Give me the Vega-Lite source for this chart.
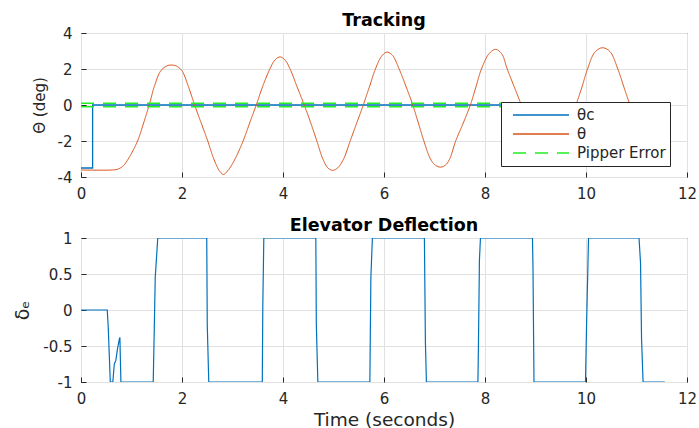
{
  "$schema": "https://vega.github.io/schema/vega-lite/v6.json",
  "padding": {"left": 13, "top": 11, "right": 2, "bottom": 2},
  "background": "white",
  "spacing": 14,
  "datasets": {
    "top": [
      {"t": 0, "v": -3.5, "s": "θc", "k": "c"},
      {"t": 0.23, "v": -3.5, "s": "θc", "k": "c"},
      {"t": 0.23, "v": 0, "s": "θc", "k": "c"},
      {"t": 11.55, "v": 0, "s": "θc", "k": "c"},
      {"t": 0, "v": 0.1, "s": "Pipper Error", "k": "p1"},
      {"t": 11.55, "v": 0.1, "s": "Pipper Error", "k": "p1"},
      {"t": 0, "v": -0.1, "s": "Pipper Error", "k": "p2"},
      {"t": 11.55, "v": -0.1, "s": "Pipper Error", "k": "p2"},
      {"t": 0, "v": -3.61, "s": "θ", "k": "th"},
      {"t": 0.62, "v": -3.61, "s": "θ", "k": "th"},
      {"t": 0.72, "v": -3.57, "s": "θ", "k": "th"},
      {"t": 0.83, "v": -3.4, "s": "θ", "k": "th"},
      {"t": 0.95, "v": -2.93, "s": "θ", "k": "th"},
      {"t": 1.12, "v": -2.0, "s": "θ", "k": "th"},
      {"t": 1.24, "v": -1.0, "s": "θ", "k": "th"},
      {"t": 1.35, "v": 0, "s": "θ", "k": "th"},
      {"t": 1.46, "v": 1.1, "s": "θ", "k": "th"},
      {"t": 1.58, "v": 1.9, "s": "θ", "k": "th"},
      {"t": 1.7, "v": 2.17, "s": "θ", "k": "th"},
      {"t": 1.8, "v": 2.22, "s": "θ", "k": "th"},
      {"t": 1.9, "v": 2.15, "s": "θ", "k": "th"},
      {"t": 2.0, "v": 1.9, "s": "θ", "k": "th"},
      {"t": 2.13, "v": 1.0, "s": "θ", "k": "th"},
      {"t": 2.25, "v": 0, "s": "θ", "k": "th"},
      {"t": 2.38, "v": -1.0, "s": "θ", "k": "th"},
      {"t": 2.51, "v": -2.0, "s": "θ", "k": "th"},
      {"t": 2.63, "v": -3.0, "s": "θ", "k": "th"},
      {"t": 2.74, "v": -3.65, "s": "θ", "k": "th"},
      {"t": 2.82, "v": -3.86, "s": "θ", "k": "th"},
      {"t": 2.92, "v": -3.6, "s": "θ", "k": "th"},
      {"t": 3.05, "v": -3.0, "s": "θ", "k": "th"},
      {"t": 3.21, "v": -2.0, "s": "θ", "k": "th"},
      {"t": 3.34, "v": -1.0, "s": "θ", "k": "th"},
      {"t": 3.47, "v": 0, "s": "θ", "k": "th"},
      {"t": 3.6, "v": 1.05, "s": "θ", "k": "th"},
      {"t": 3.74, "v": 2.0, "s": "θ", "k": "th"},
      {"t": 3.84, "v": 2.5, "s": "θ", "k": "th"},
      {"t": 3.94, "v": 2.67, "s": "θ", "k": "th"},
      {"t": 4.04, "v": 2.5, "s": "θ", "k": "th"},
      {"t": 4.14, "v": 2.0, "s": "θ", "k": "th"},
      {"t": 4.28, "v": 1.0, "s": "θ", "k": "th"},
      {"t": 4.42, "v": 0, "s": "θ", "k": "th"},
      {"t": 4.55, "v": -1.0, "s": "θ", "k": "th"},
      {"t": 4.67, "v": -2.0, "s": "θ", "k": "th"},
      {"t": 4.79, "v": -3.0, "s": "θ", "k": "th"},
      {"t": 4.89, "v": -3.5, "s": "θ", "k": "th"},
      {"t": 4.98, "v": -3.63, "s": "θ", "k": "th"},
      {"t": 5.08, "v": -3.5, "s": "θ", "k": "th"},
      {"t": 5.2, "v": -3.0, "s": "θ", "k": "th"},
      {"t": 5.33, "v": -2.0, "s": "θ", "k": "th"},
      {"t": 5.46, "v": -1.0, "s": "θ", "k": "th"},
      {"t": 5.59, "v": 0, "s": "θ", "k": "th"},
      {"t": 5.71, "v": 1.0, "s": "θ", "k": "th"},
      {"t": 5.83, "v": 2.0, "s": "θ", "k": "th"},
      {"t": 5.95, "v": 2.7, "s": "θ", "k": "th"},
      {"t": 6.06, "v": 2.94, "s": "θ", "k": "th"},
      {"t": 6.17, "v": 2.75, "s": "θ", "k": "th"},
      {"t": 6.3, "v": 2.0, "s": "θ", "k": "th"},
      {"t": 6.44, "v": 1.0, "s": "θ", "k": "th"},
      {"t": 6.57, "v": 0, "s": "θ", "k": "th"},
      {"t": 6.68, "v": -1.0, "s": "θ", "k": "th"},
      {"t": 6.79, "v": -2.0, "s": "θ", "k": "th"},
      {"t": 6.92, "v": -3.0, "s": "θ", "k": "th"},
      {"t": 7.02, "v": -3.35, "s": "θ", "k": "th"},
      {"t": 7.12, "v": -3.45, "s": "θ", "k": "th"},
      {"t": 7.22, "v": -3.33, "s": "θ", "k": "th"},
      {"t": 7.3, "v": -3.0, "s": "θ", "k": "th"},
      {"t": 7.42, "v": -2.0, "s": "θ", "k": "th"},
      {"t": 7.57, "v": -1.0, "s": "θ", "k": "th"},
      {"t": 7.71, "v": 0, "s": "θ", "k": "th"},
      {"t": 7.82, "v": 1.0, "s": "θ", "k": "th"},
      {"t": 7.93, "v": 2.0, "s": "θ", "k": "th"},
      {"t": 8.08, "v": 2.85, "s": "θ", "k": "th"},
      {"t": 8.21, "v": 3.09, "s": "θ", "k": "th"},
      {"t": 8.33, "v": 2.85, "s": "θ", "k": "th"},
      {"t": 8.44, "v": 2.0, "s": "θ", "k": "th"},
      {"t": 8.58, "v": 1.0, "s": "θ", "k": "th"},
      {"t": 8.72, "v": 0, "s": "θ", "k": "th"},
      {"t": 8.85, "v": -1.0, "s": "θ", "k": "th"},
      {"t": 8.97, "v": -2.0, "s": "θ", "k": "th"},
      {"t": 9.09, "v": -2.95, "s": "θ", "k": "th"},
      {"t": 9.17, "v": -3.25, "s": "θ", "k": "th"},
      {"t": 9.25, "v": -3.3, "s": "θ", "k": "th"},
      {"t": 9.33, "v": -3.2, "s": "θ", "k": "th"},
      {"t": 9.42, "v": -2.9, "s": "θ", "k": "th"},
      {"t": 9.53, "v": -2.0, "s": "θ", "k": "th"},
      {"t": 9.66, "v": -1.0, "s": "θ", "k": "th"},
      {"t": 9.8, "v": 0, "s": "θ", "k": "th"},
      {"t": 9.92, "v": 1.0, "s": "θ", "k": "th"},
      {"t": 10.03, "v": 2.0, "s": "θ", "k": "th"},
      {"t": 10.18, "v": 2.95, "s": "θ", "k": "th"},
      {"t": 10.33, "v": 3.18, "s": "θ", "k": "th"},
      {"t": 10.48, "v": 2.95, "s": "θ", "k": "th"},
      {"t": 10.63, "v": 2.0, "s": "θ", "k": "th"},
      {"t": 10.75, "v": 1.0, "s": "θ", "k": "th"},
      {"t": 10.87, "v": 0, "s": "θ", "k": "th"},
      {"t": 10.99, "v": -1.0, "s": "θ", "k": "th"},
      {"t": 11.1, "v": -2.0, "s": "θ", "k": "th"},
      {"t": 11.22, "v": -2.95, "s": "θ", "k": "th"},
      {"t": 11.33, "v": -3.25, "s": "θ", "k": "th"},
      {"t": 11.43, "v": -3.3, "s": "θ", "k": "th"},
      {"t": 11.55, "v": -3.15, "s": "θ", "k": "th"}
    ],
    "elev": [
      {"t": 0, "d": 0},
      {"t": 0.52, "d": 0},
      {"t": 0.54, "d": -0.25},
      {"t": 0.58, "d": -1},
      {"t": 0.63, "d": -1},
      {"t": 0.66, "d": -0.75},
      {"t": 0.69, "d": -0.7},
      {"t": 0.72, "d": -0.55},
      {"t": 0.76, "d": -0.4},
      {"t": 0.77, "d": -0.38},
      {"t": 0.79, "d": -1},
      {"t": 1.43, "d": -1},
      {"t": 1.45, "d": -0.3},
      {"t": 1.47, "d": 0.45},
      {"t": 1.52, "d": 1},
      {"t": 2.49, "d": 1},
      {"t": 2.5, "d": -0.2},
      {"t": 2.53, "d": -1},
      {"t": 3.59, "d": -1},
      {"t": 3.6, "d": 0.05},
      {"t": 3.62, "d": 1},
      {"t": 4.65, "d": 1},
      {"t": 4.66, "d": -0.2},
      {"t": 4.69, "d": -1},
      {"t": 5.72, "d": -1},
      {"t": 5.74, "d": 0.45},
      {"t": 5.77, "d": 1},
      {"t": 6.8, "d": 1},
      {"t": 6.82, "d": -0.45},
      {"t": 6.84, "d": -1},
      {"t": 7.86, "d": -1},
      {"t": 7.87, "d": -0.5},
      {"t": 7.89, "d": 0.7},
      {"t": 7.91, "d": 1},
      {"t": 8.94, "d": 1},
      {"t": 8.95, "d": 0.6},
      {"t": 8.97, "d": -1},
      {"t": 9.99, "d": -1},
      {"t": 10.01, "d": -0.25},
      {"t": 10.05, "d": 1},
      {"t": 11.05, "d": 1},
      {"t": 11.08, "d": 0.65},
      {"t": 11.1, "d": -0.4},
      {"t": 11.13, "d": -1},
      {"t": 11.56, "d": -1}
    ]
  },
  "vconcat": [
    {
      "width": 606,
      "height": 144,
      "title": {"text": "Tracking"},
      "data": {"name": "top"},
      "encoding": {
        "x": {"field": "t", "type": "quantitative", "scale": {"domain": [0, 12], "nice": false, "zero": false},
              "axis": {"values": [0, 2, 4, 6, 8, 10, 12], "title": null}},
        "y": {"field": "v", "type": "quantitative", "scale": {"domain": [-4, 4], "nice": false},
              "axis": {"values": [-4, -2, 0, 2, 4], "title": "Θ (deg)", "titleFontSize": 15}},
        "color": {"field": "s", "type": "nominal",
                  "scale": {"domain": ["θc", "θ", "Pipper Error"], "range": ["#0072BD", "#D95319", "#22ee22"]},
                  "legend": {"title": null, "orient": "none", "legendX": 420, "legendY": 69,
                             "symbolType": "stroke", "symbolSize": 3136, "symbolStrokeWidth": 1.5,
                             "symbolOffset": 7, "labelOffset": 7, "clipHeight": 18, "rowPadding": 1,
                             "padding": 4, "fillColor": "white", "strokeColor": "#262626", "cornerRadius": 0,
                             "labelFont": "DejaVu Sans", "labelFontSize": 15, "labelColor": "#262626", "labelLimit": 200}},
        "strokeDash": {"field": "s", "type": "nominal",
                       "scale": {"domain": ["θc", "θ", "Pipper Error"], "range": [[1, 0], [1, 0], [13, 9]]}},
        "detail": {"field": "k"},
        "order": {"value": null}
      },
      "layer": [
        {"transform": [{"filter": "datum.s === 'θc'"}], "mark": {"type": "line", "strokeWidth": 1.3, "clip": true}},
        {"transform": [{"filter": "datum.s === 'θ'"}], "mark": {"type": "line", "strokeWidth": 1, "interpolate": "catmull-rom", "clip": true}},
        {"transform": [{"filter": "datum.s === 'Pipper Error'"}], "mark": {"type": "line", "strokeWidth": 1.5, "clip": true}}
      ]
    },
    {
      "width": 606,
      "height": 144,
      "title": {"text": "Elevator Deflection"},
      "data": {"name": "elev"},
      "mark": {"type": "line", "strokeWidth": 1.2, "color": "#0072BD", "clip": true},
      "encoding": {
        "x": {"field": "t", "type": "quantitative", "scale": {"domain": [0, 12], "nice": false, "zero": false},
              "axis": {"values": [0, 2, 4, 6, 8, 10, 12], "title": "Time (seconds)"}},
        "y": {"field": "d", "type": "quantitative", "scale": {"domain": [-1, 1], "nice": false},
              "axis": {"values": [-1, -0.5, 0, 0.5, 1], "format": "~g", "title": "δₑ", "titleFontSize": 19}},
        "order": {"value": null}
      }
    }
  ],
  "config": {
    "font": "DejaVu Sans",
    "view": {"stroke": "#262626", "strokeWidth": 1},
    "title": {"font": "DejaVu Sans", "fontSize": 17.5, "fontWeight": "bold", "color": "#000000", "offset": 4, "dy": 7, "anchor": "middle", "frame": "group"},
    "axis": {
      "labelFont": "DejaVu Sans", "labelFontSize": 15, "labelColor": "#262626", "labelPadding": 14,
      "labelFlush": false, "labelOverlap": false,
      "labelExpr": "replace(datum.label, '−', '-')",
      "ticks": true, "tickSize": -5, "tickColor": "#262626", "domain": false,
      "grid": true, "gridColor": "#e1e1e1", "gridWidth": 1,
      "titleFont": "DejaVu Sans", "titleFontWeight": "normal", "titleColor": "#262626", "titlePadding": 10
    },
    "axisX": {"titleFontSize": 18.5, "titlePadding": 4}
  }
}
